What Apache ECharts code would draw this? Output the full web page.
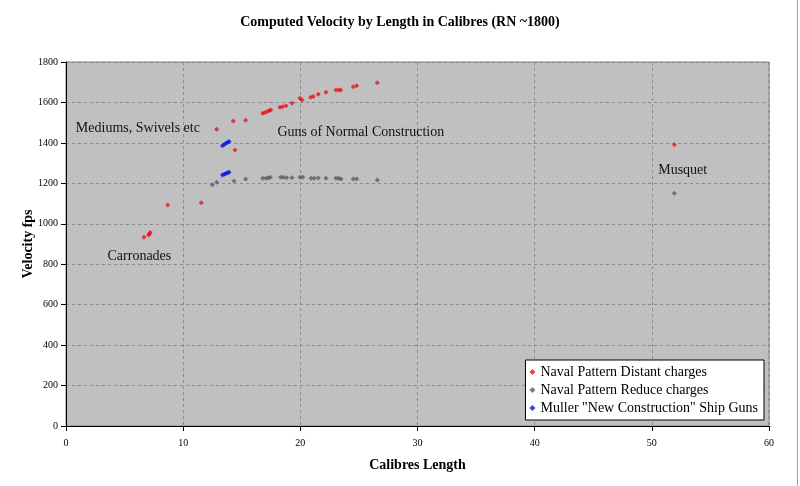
<!DOCTYPE html>
<html><head><meta charset="utf-8">
<script src="https://cdn.jsdelivr.net/npm/echarts@6/dist/echarts.min.js"></script>
<style>html,body{margin:0;padding:0;background:#fff}#c{width:800px;height:486px}</style>
</head><body><div id="c"></div>
<script>
const distantX = [6.66,7.05,7.12,7.18,8.68,11.55,12.86,14.28,14.42,15.33,16.79,16.98,17.18,17.35,17.47,18.26,18.49,18.78,19.29,19.97,20.14,20.88,21.1,21.53,22.19,23.04,23.27,23.44,24.52,24.81,26.57,51.92];
const distantY = [933,944,950,957,1093,1104,1467,1508,1365,1512,1547,1550,1555,1560,1563,1576,1579,1584,1596,1621,1612,1626,1629,1640,1650,1662,1662,1662,1678,1683,1698,1391];
const reduceX = [12.49,12.86,14.34,15.33,16.79,17.07,17.27,17.44,18.32,18.55,18.84,19.29,19.97,20.2,20.91,21.19,21.53,22.19,23.04,23.27,23.47,24.52,24.81,26.57,51.92];
const reduceY = [1193,1205,1212,1222,1225,1225,1226,1230,1230,1230,1228,1227,1230,1230,1225,1225,1226,1225,1225,1225,1222,1222,1222,1217,1151];
const mullerX = [13.35,13.5,13.65,13.8,13.92,13.35,13.5,13.65,13.8,13.92];
const mullerY = [1386,1392,1398,1403,1407,1241,1245,1249,1252,1255];
const seriesNames = ['Naval Pattern Distant charges','Naval Pattern Reduce charges','Muller "New Construction" Ship Guns'];
const notes = [
  {text:'Mediums, Swivels etc', x:0.8, y:1470},
  {text:'Guns of Normal Construction', x:18.0, y:1450},
  {text:'Carronades', x:3.5, y:840},
  {text:'Musquet', x:50.5, y:1265}
];
const zip = (a,b)=>a.map((v,i)=>[v,b[i]]);
const FONT = '"Liberation Serif","DejaVu Serif",serif';
const chart = echarts.init(document.getElementById('c'));
const tick = {color:'#000', fontFamily:FONT, fontSize:10};
chart.setOption({
  animation:false,
  backgroundColor:'#fff',
  title:{text:'Computed Velocity by Length in Calibres (RN ~1800)', left:'center', top:10,
    textStyle:{fontFamily:FONT, fontSize:14, fontWeight:'bold', color:'#000'}},
  graphic:[{type:'line', shape:{x1:797.5, y1:0, x2:797.5, y2:486}, style:{stroke:'#a0a0a0', lineWidth:1}}],
  grid:{left:66, right:31, top:62, bottom:60, show:true, backgroundColor:'#c0c0c0', borderColor:'#808080', borderWidth:1},
  xAxis:{type:'value', min:0, max:60, interval:10, name:'Calibres Length', nameLocation:'middle', nameGap:32,
    nameTextStyle:{fontFamily:FONT, fontSize:14, fontWeight:'bold', color:'#000'},
    axisLine:{lineStyle:{color:'#000'}}, axisTick:{show:true, lineStyle:{color:'#000'}},
    axisLabel:Object.assign({margin:12}, tick),
    splitLine:{show:true, lineStyle:{color:'#8a8a8a', type:[3,3], width:1}}},
  yAxis:{type:'value', min:0, max:1800, interval:200, name:'Velocity fps', nameLocation:'middle', nameGap:31, nameMoveOverlap:false,
    nameTextStyle:{fontFamily:FONT, fontSize:14, fontWeight:'bold', color:'#000'},
    axisLine:{show:true, lineStyle:{color:'#000'}}, axisTick:{show:true, lineStyle:{color:'#000'}},
    axisLabel:Object.assign({margin:8, formatter:v=>String(v)}, tick),
    splitLine:{show:true, lineStyle:{color:'#8a8a8a', type:[3,3], width:1}}},
  legend:{orient:'vertical', right:36, bottom:66, backgroundColor:'#fff', borderColor:'#000', borderWidth:1,
    padding:[5,6,5,4], itemGap:4, itemWidth:6, itemHeight:6,
    textStyle:{fontFamily:FONT, fontSize:14, color:'#000'},
    data:seriesNames.map(n=>({name:n, icon:'diamond'}))},
  series:[
    {name:seriesNames[0], type:'scatter', symbol:'diamond', symbolSize:5, itemStyle:{color:'#e8121c'}, data:zip(distantX,distantY),
     markPoint:{symbol:'rect', symbolSize:1, itemStyle:{color:'transparent'},
       label:{show:true, position:'right', distance:0, fontFamily:FONT, fontSize:14, color:'#111', formatter:p=>p.name},
       data:notes.map(n=>({name:n.text, coord:[n.x,n.y]}))}},
    {name:seriesNames[1], type:'scatter', symbol:'diamond', symbolSize:5, itemStyle:{color:'#5c5c5c'}, data:zip(reduceX,reduceY)},
    {name:seriesNames[2], type:'scatter', symbol:'diamond', symbolSize:5, itemStyle:{color:'#0a14e6'}, data:zip(mullerX,mullerY)}
  ]
});
</script></body></html>
